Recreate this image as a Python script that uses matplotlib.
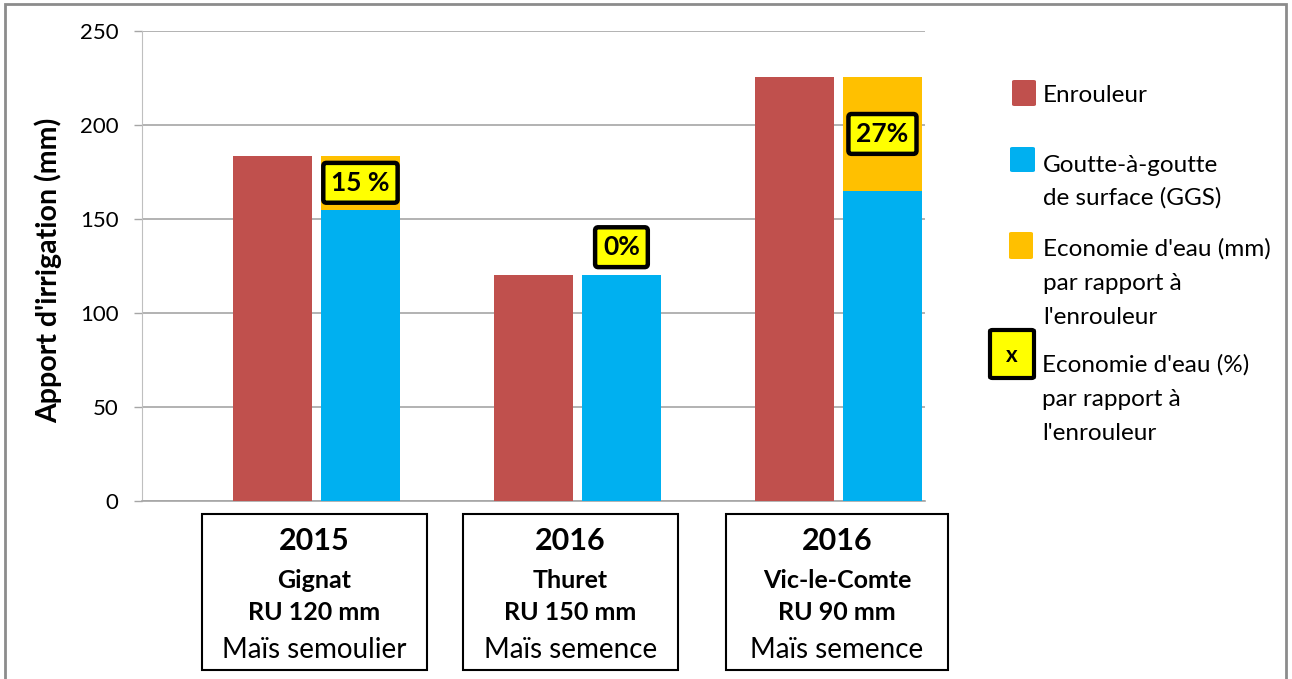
import numpy as np
import matplotlib.pyplot as plt
from matplotlib.patches import Rectangle, FancyBboxPatch

plt.rcParams['font.family'] = ['Lato', 'DejaVu Sans']

# irrigation per site (mm)
years = ["2015", "2016", "2016"]
sites = ["Gignat", "Thuret", "Vic-le-Comte"]
ru = ["RU 120 mm", "RU 150 mm", "RU 90 mm"]
crops = ["Maïs semoulier", "Maïs semence", "Maïs semence"]
enrouleur = [183.5, 120, 225.5]
ggs = [155, 120, 165]
saving_pct = ["15 %", "0%", "27%"]

RED = '#C0504D'
BLUE = '#00B0F0'
ORANGE = '#FFC000'
YELLOW = '#FFFF00'

W, H = 1292, 679
fig = plt.figure(figsize=(W/100, H/100), dpi=100)

def fx(px):
	return px / W

def fy(py):
	return 1 - py / H

ax = fig.add_axes([fx(142), fy(501), fx(925) - fx(142), fy(31) - fy(501)])

x = np.arange(len(sites))
bw = 0.306
off = 0.337
enr = np.array(enrouleur)
gg = np.array(ggs)
eco = enr - gg

ax.bar(x, enr, bw, color=RED, zorder=3)
ax.bar(x + off, gg, bw, color=BLUE, zorder=3)
ax.bar(x + off, eco, bw, bottom=gg, color=ORANGE, zorder=3)

# percentage labels: centred in the saving segment, or just above the bar if none
for i in range(len(sites)):
	if eco[i] > 0:
		yv = gg[i] + eco[i] / 2
	else:
		yv = enr[i] + 15
	ax.text(x[i] + off, yv, saving_pct[i], ha='center', va='center',
		fontsize=19, fontweight='bold', zorder=5,
		bbox=dict(boxstyle='round,pad=0.3,rounding_size=0.12', fc=YELLOW, ec='black', lw=3.2))

ax.set_xlim(-0.5, 2.5)
ax.set_ylim(0, 250)
ax.set_yticks(np.arange(0, 251, 50))
ax.set_xticks([])
ax.tick_params(axis='y', labelsize=16, length=6, width=1, color='#A6A6A6', pad=11)
ax.yaxis.grid(True, color='#A6A6A6', lw=1.2, zorder=0)
for s in ['top', 'right']:
	ax.spines[s].set_visible(False)
ax.spines['left'].set_color('#BFBFBF')
ax.spines['bottom'].set_color('#A6A6A6')
ax.spines['bottom'].set_linewidth(1.2)

fig.text(fx(48), fy(270), "Apport d'irrigation (mm)", rotation=90, ha='center', va='center',
	fontsize=20.5, fontweight='bold')

# category boxes under the axis
boxes = [(202, 427), (463, 678), (726, 948)]
for i, (l, r) in enumerate(boxes):
	fig.patches.append(Rectangle((fx(l), fy(670)), fx(r) - fx(l), fy(514) - fy(670),
		transform=fig.transFigure, fill=False, ec='black', lw=1.5))
	cx = fx((l + r) / 2)
	fig.text(cx, fy(541), years[i], ha='center', va='center', fontsize=22, fontweight='bold')
	fig.text(cx, fy(580), sites[i], ha='center', va='center', fontsize=18, fontweight='bold')
	fig.text(cx, fy(613), ru[i], ha='center', va='center', fontsize=18, fontweight='bold')
	fig.text(cx, fy(650), crops[i], ha='center', va='center', fontsize=20)

# legend
def square(l, t, r, b, color, **kw):
	fig.patches.append(FancyBboxPatch((fx(l), fy(b)), fx(r) - fx(l), fy(t) - fy(b),
		boxstyle='round,pad=0,rounding_size=0.002', transform=fig.transFigure,
		fc=color, **kw))

square(1012, 80, 1036, 106, RED, ec='none')
square(1010, 147, 1035, 172, BLUE, ec='none')
square(1009, 232, 1033, 259, ORANGE, ec='none')
square(990, 330, 1034, 378, YELLOW, ec='black', lw=3)
fig.text(fx(1012), fy(356), "x", ha='center', va='center', fontsize=16, fontweight='bold')

leg = [(1043, 96, "Enrouleur"),
	(1043, 165, "Goutte-à-goutte"), (1043, 198, "de surface (GGS)"),
	(1043, 249, "Economie d'eau (mm)"), (1043, 283, "par rapport à"), (1043, 317, "l'enrouleur"),
	(1042, 365, "Economie d'eau (%)"), (1042, 399, "par rapport à"), (1042, 433, "l'enrouleur")]
for px, py, t in leg:
	fig.text(fx(px), fy(py), t, ha='left', va='center', fontsize=17.5)

# outer frame
fig.patches.append(Rectangle((fx(5), fy(700)), fx(1286) - fx(5), fy(4) - fy(700),
	transform=fig.transFigure, fill=False, ec='#8C8C8C', lw=2, clip_on=False))

fig.savefig('out.png', dpi=100)
